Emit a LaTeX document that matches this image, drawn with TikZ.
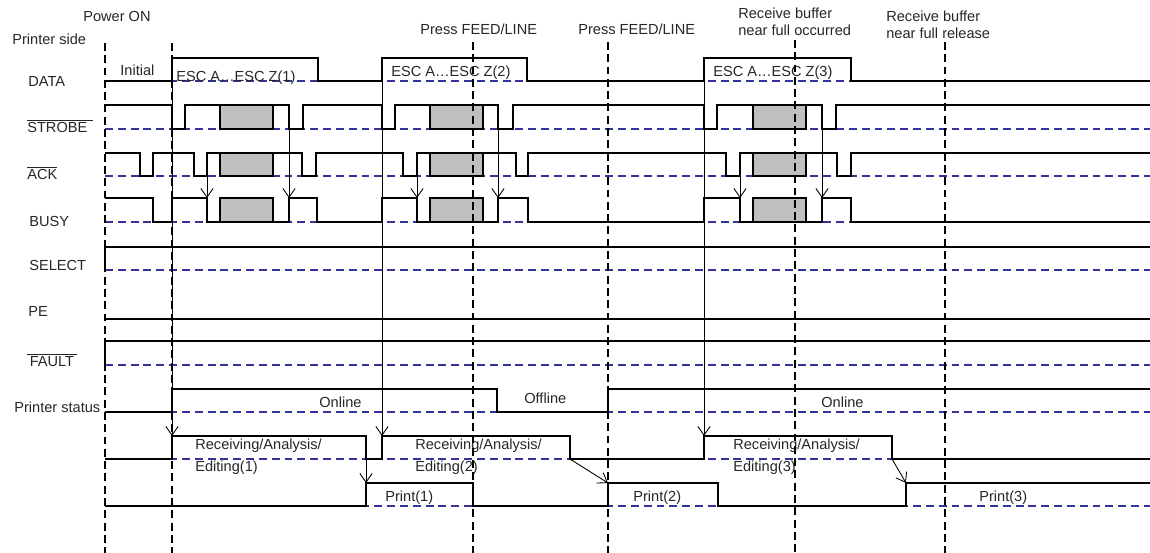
\documentclass[tikz,border=0pt]{standalone}
\usepackage{fontspec}
\setmainfont{Liberation Sans}
\usetikzlibrary{arrows.meta}
\definecolor{baseblue}{RGB}{51,51,153}

\begin{document}
\begin{tikzpicture}[x=0.02cm, y=-0.02cm,
    font=\fontsize{8.3}{10}\selectfont,
    sig/.style={line width=1.1pt},
    base/.style={baseblue, line width=1pt, dash pattern=on 4.5pt off 2.8pt},
    marker/.style={line width=1pt, dash pattern=on 4.5pt off 2.5pt},
    arr/.style={line width=0.5pt, -{Straight Barb[length=5pt, width=7pt]}},
    lbl/.style={anchor=base west, inner sep=0pt, text=black!85},
    grayblock/.style={sig, fill=gray!50}]
    \useasboundingbox (0,0) rectangle (1150,553);

    % titles
    \node[lbl] (power) at (83,22) {Power ON};
    \node[lbl] (side) at (12,45) {Printer side};
    \node[lbl] (feed1) at (420,35) {Press FEED/LINE};
    \node[lbl] (feed2) at (578,35) {Press FEED/LINE};
    \node[lbl] (occ1) at (738,19) {Receive buffer};
    \node[lbl] (occ2) at (738,36) {near full occurred};
    \node[lbl] (rel1) at (886,22) {Receive buffer};
    \node[lbl] (rel2) at (886,39) {near full release};

    % signal names
    \node[lbl] (data) at (28,87) {DATA};
    \node[lbl] (strobe) at (27,133) {$\overline{\mbox{STROBE\hspace{3pt}}}$};
    \node[lbl] (ack) at (27,180) {$\overline{\mbox{ACK}}$};
    \node[lbl] (busy) at (29,227) {BUSY};
    \node[lbl] (select) at (29,271) {SELECT};
    \node[lbl] (pe) at (28,317) {PE};
    \node[lbl] (fault) at (27,367) {$\overline{\mbox{\,FAULT\,}}$};
    \node[lbl] (status) at (14,413) {Printer status};

    % low levels
    \draw[base] (105,81) -- (1150,81) (105,129) -- (1150,129)
        (105,176) -- (1150,176) (105,222) -- (1150,222)
        (105,270) -- (1150,270) (105,365) -- (1150,365)
        (105,412) -- (1150,412) (105,459) -- (1150,459)
        (105,506) -- (1150,506);

    % DATA
    \draw[sig] (105,81) -- (172,81) -- (172,58) -- (318,58) -- (318,81)
        -- (382,81) -- (382,58) -- (527,58) -- (527,81) -- (704,81)
        -- (704,58) -- (851,58) -- (851,81) -- (1150,81);
    % STROBE
    \draw[sig] (105,105) -- (172,105) -- (172,129) -- (185,129) -- (185,105)
        -- (289,105) -- (289,129) -- (303,129) -- (303,105) -- (382,105)
        -- (382,129) -- (395,129) -- (395,105) -- (498,105) -- (498,129)
        -- (513,129) -- (513,105) -- (704,105) -- (704,129) -- (717,129)
        -- (717,105) -- (822,105) -- (822,129) -- (836,129) -- (836,105)
        -- (1150,105);
    % ACK
    \draw[sig] (105,153) -- (140,153) -- (140,176) -- (153,176) -- (153,153)
        -- (194,153) -- (194,176) -- (207,176) -- (207,153) -- (302,153)
        -- (302,176) -- (316,176) -- (316,153) -- (403,153) -- (403,176)
        -- (417,176) -- (417,153) -- (516,153) -- (516,176) -- (528,176)
        -- (528,153) -- (726,153) -- (726,176) -- (740,176) -- (740,153)
        -- (837,153) -- (837,176) -- (851,176) -- (851,153) -- (1150,153);
    % BUSY
    \draw[sig] (105,198) -- (153,198) -- (153,222) -- (172,222) -- (172,198)
        -- (207,198) -- (207,222) -- (289,222) -- (289,198) -- (317,198)
        -- (317,222) -- (382,222) -- (382,198) -- (417,198) -- (417,222)
        -- (498,222) -- (498,198) -- (528,198) -- (528,222) -- (704,222)
        -- (704,198) -- (740,198) -- (740,222) -- (822,222) -- (822,198)
        -- (851,198) -- (851,222) -- (1150,222);
    % gray data blocks
    \foreach \xa/\xb in {220/273, 430/483, 753/806} {
        \filldraw[grayblock] (\xa,105) rectangle (\xb,129);
        \filldraw[grayblock] (\xa,153) rectangle (\xb,176);
        \filldraw[grayblock] (\xa,198) rectangle (\xb,222);
    }
    % SELECT, PE, FAULT
    \draw[sig] (105,270) -- (105,247) -- (1150,247);
    \draw[sig] (105,319) -- (1150,319);
    \draw[sig] (105,365) -- (105,341) -- (1150,341);
    % printer status
    \draw[sig] (105,412) -- (172,412) -- (172,389) -- (497,389) -- (497,412)
        -- (608,412) -- (608,389) -- (1150,389);
    % receiving / analysis / editing
    \draw[sig] (105,459) -- (172,459) -- (172,436) -- (366,436) -- (366,459)
        -- (382,459) -- (382,436) -- (570,436) -- (570,459) -- (704,459)
        -- (704,436) -- (892,436) -- (892,459) -- (1150,459);
    % print
    \draw[sig] (105,506) -- (366,506) -- (366,483) -- (473,483) -- (473,506)
        -- (608,506) -- (608,483) -- (718,483) -- (718,506) -- (906,506)
        -- (906,483) -- (1150,483);

    % texts on the waveforms
    \node[lbl] (init) at (120,76) {Initial};
    \node[lbl] (esc1) at (176,82) {ESC A…ESC Z(1)};
    \node[lbl] (esc2) at (391,77) {ESC A…ESC Z(2)};
    \node[lbl] (esc3) at (713,77) {ESC A…ESC Z(3)};
    \node[lbl] (online1) at (319,408) {Online};
    \node[lbl] (offline) at (524,404) {Offline};
    \node[lbl] (online2) at (821,408) {Online};
    \node[lbl] (rcv1) at (195,450) {Receiving/Analysis/};
    \node[lbl] (edit1) at (195,472) {Editing(1)};
    \node[lbl] (rcv2) at (415,450) {Receiving/Analysis/};
    \node[lbl] (edit2) at (415,472) {Editing(2)};
    \node[lbl] (rcv3) at (733,450) {Receiving/Analysis/};
    \node[lbl] (edit3) at (733,472) {Editing(3)};
    \node[lbl] (print1) at (385,502) {Print(1)};
    \node[lbl] (print2) at (633,502) {Print(2)};
    \node[lbl] (print3) at (979,502) {Print(3)};

    % handshake arrows
    \coordinate (ackA) at (207,176);  \coordinate (busyA) at (207,198);
    \coordinate (stbA) at (289,129);  \coordinate (busyB) at (289,198);
    \coordinate (ackC) at (417,176);  \coordinate (busyC) at (417,198);
    \coordinate (stbD) at (498,129);  \coordinate (busyD) at (498,198);
    \coordinate (ackE) at (740,176);  \coordinate (busyE) at (740,198);
    \coordinate (stbF) at (822,129);  \coordinate (busyF) at (822,198);
    \draw[arr] (ackA) -- (busyA);
    \draw[arr] (stbA) -- (busyB);
    \draw[arr] (ackC) -- (busyC);
    \draw[arr] (stbD) -- (busyD);
    \draw[arr] (ackE) -- (busyE);
    \draw[arr] (stbF) -- (busyF);

    % data start -> receiving
    \coordinate (dat1) at (172,81);  \coordinate (rcvup1) at (172,436);
    \coordinate (dat2) at (382,81);  \coordinate (rcvup2) at (382,436);
    \coordinate (dat3) at (704,81);  \coordinate (rcvup3) at (704,436);
    \draw[arr] (dat1) -- (rcvup1);
    \draw[arr] (dat2) -- (rcvup2);
    \draw[arr] (dat3) -- (rcvup3);

    % receiving end -> print
    \coordinate (rcvdn1) at (366,459);  \coordinate (prt1) at (366,483);
    \coordinate (rcvdn2) at (570,459);  \coordinate (prt2) at (608,483);
    \coordinate (rcvdn3) at (892,459);  \coordinate (prt3) at (906,483);
    \draw[arr] (rcvdn1) -- (prt1);
    \draw[arr] (rcvdn2) -- (prt2);
    \draw[arr] (rcvdn3) -- (prt3);

    % event markers
    \draw[marker] (105,43) -- (105,553);
    \draw[marker] (172,43) -- (172,553);
    \draw[marker] (473,42) -- (473,553);
    \draw[marker] (608,42) -- (608,553);
    \draw[marker] (795,40) -- (795,553);
    \draw[marker] (945,42) -- (945,553);
\end{tikzpicture}
\end{document}
